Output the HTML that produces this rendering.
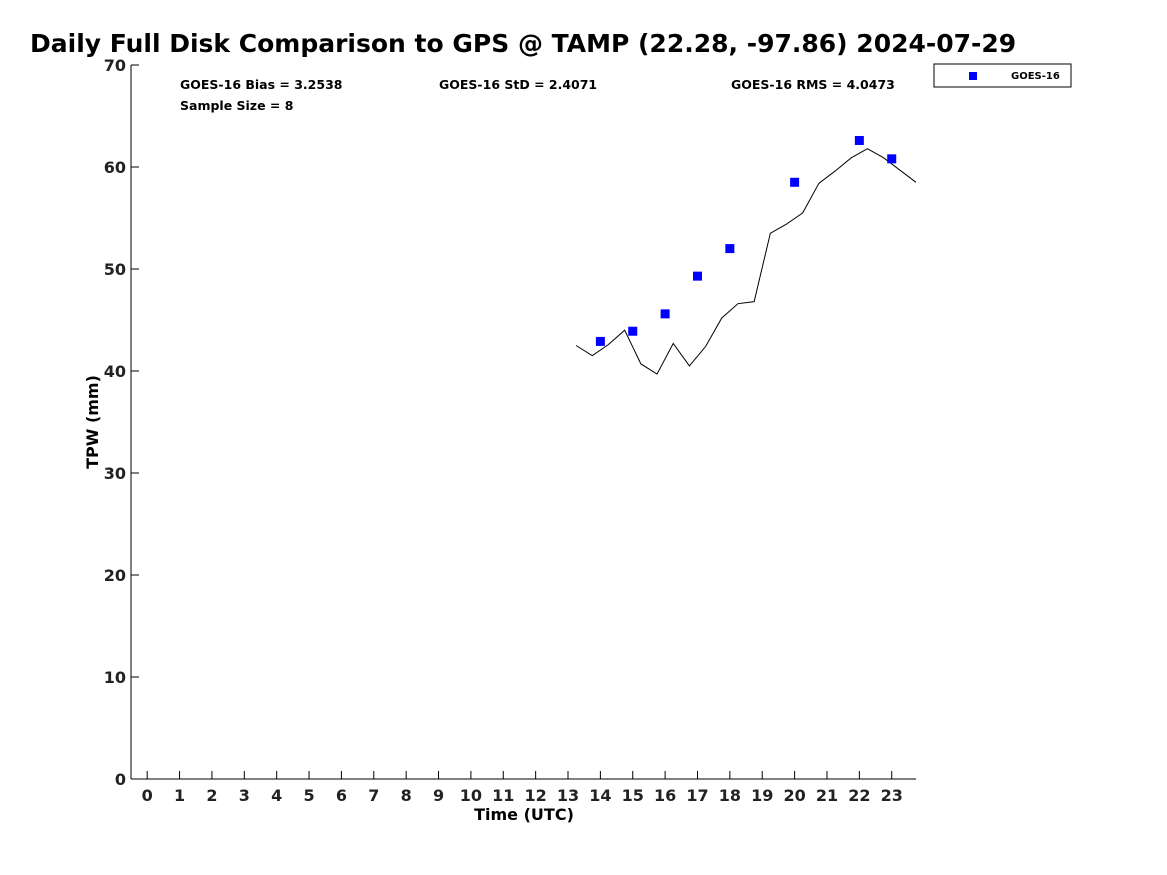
<!DOCTYPE html>
<html><head><meta charset="utf-8"><style>
body{margin:0;background:#fff;}
svg{display:block;font-family:"Liberation Sans","DejaVu Sans",sans-serif;}
</style></head><body>
<svg id="chart" width="1167" height="875" viewBox="0 0 1167 875" xmlns="http://www.w3.org/2000/svg">
<rect width="1167" height="875" fill="#fff"/>
<text x="30" y="52" font-size="25" font-weight="bold" font-family="DejaVu Sans, sans-serif">Daily Full Disk Comparison to GPS @ TAMP (22.28, -97.86) 2024-07-29</text>
<g id="axes"></g>
<g id="marks"></g>
<text x="180" y="89" font-size="12.5" font-weight="bold" font-family="DejaVu Sans, sans-serif">GOES-16 Bias = 3.2538</text>
<text x="180" y="110" font-size="12.5" font-weight="bold" font-family="DejaVu Sans, sans-serif">Sample Size = 8</text>
<text x="439" y="89" font-size="12.5" font-weight="bold" font-family="DejaVu Sans, sans-serif">GOES-16 StD = 2.4071</text>
<text x="731" y="89" font-size="12.5" font-weight="bold" font-family="DejaVu Sans, sans-serif">GOES-16 RMS = 4.0473</text>
<g>
<rect x="934" y="64" width="137" height="23" fill="#fff" stroke="#000" stroke-width="1"/>
<rect x="969" y="72" width="8" height="8" fill="#0000ff"/>
<text x="1011" y="79" font-size="10" font-weight="bold" font-family="DejaVu Sans, sans-serif">GOES-16</text>
</g>
<text x="524" y="820" font-size="16" font-weight="bold" text-anchor="middle" font-family="DejaVu Sans, sans-serif">Time (UTC)</text>
<text transform="translate(98,422) rotate(-90)" font-size="16" font-weight="bold" text-anchor="middle" font-family="DejaVu Sans, sans-serif">TPW (mm)</text>
</svg>
<script>
const gpsHours=[13.25,13.75,14.25,14.75,15.25,15.75,16.25,16.75,17.25,17.75,18.25,18.75,19.25,19.75,20.25,20.75,21.25,21.75,22.25,22.75,23.25,23.75];
const gpsTpw=[42.5,41.5,42.6,44.0,40.7,39.7,42.7,40.5,42.4,45.2,46.6,46.8,53.5,54.4,55.5,58.4,59.6,60.9,61.8,60.9,59.7,58.5];
const goesHours=[14,15,16,17,18,20,22,23];
const goesTpw=[42.9,43.9,45.6,49.3,52.0,58.5,62.6,60.8];
const xTicks=[0,1,2,3,4,5,6,7,8,9,10,11,12,13,14,15,16,17,18,19,20,21,22,23];
const yTicks=[0,10,20,30,40,50,60,70];
const NS='http://www.w3.org/2000/svg';
const L=131,R=916,T=65,B=779,xmin=-0.5,xmax=23.75,ymin=0,ymax=70;
function xs(v){return L+(v-xmin)/(xmax-xmin)*(R-L);}
function ys(v){return B-(v-ymin)/(ymax-ymin)*(B-T);}
function mk(tag,attrs,parent){const e=document.createElementNS(NS,tag);for(const k in attrs)e.setAttribute(k,attrs[k]);parent.appendChild(e);return e;}
const axes=document.getElementById('axes'),marks=document.getElementById('marks');
const xa=mk('line',{x1:L,y1:B,x2:R,y2:B,stroke:'#000'},axes);


const ya=mk('line',{x1:L,y1:T,x2:L,y2:B,stroke:'#000'},axes);


xTicks.forEach(h=>{
  mk('line',{x1:xs(h),y1:B,x2:xs(h),y2:B-8,stroke:'#000'},axes);
  const t=mk('text',{x:xs(h),y:B+22,'font-size':16,'font-weight':'bold','text-anchor':'middle',fill:'#222','font-family':'DejaVu Sans, sans-serif'},axes);
  t.textContent=h;
  
  
});
yTicks.forEach(v=>{
  mk('line',{x1:L,y1:ys(v),x2:L+8,y2:ys(v),stroke:'#000'},axes);
  const t=mk('text',{x:L-5,y:ys(v)+6,'font-size':16,'font-weight':'bold','text-anchor':'end',fill:'#222','font-family':'DejaVu Sans, sans-serif'},axes);
  t.textContent=v;
  
  
});
const pts=gpsHours.map((h,i)=>xs(h)+','+ys(gpsTpw[i])).join(' ');
const pl=mk('polyline',{points:pts,fill:'none',stroke:'#000','stroke-width':1},marks);


goesHours.forEach((h,i)=>{
  const r=mk('rect',{x:xs(h)-4.5,y:ys(goesTpw[i])-4.5,width:9,height:9,fill:'#0000ff'},marks);
  
  
});
</script>
</body></html>
